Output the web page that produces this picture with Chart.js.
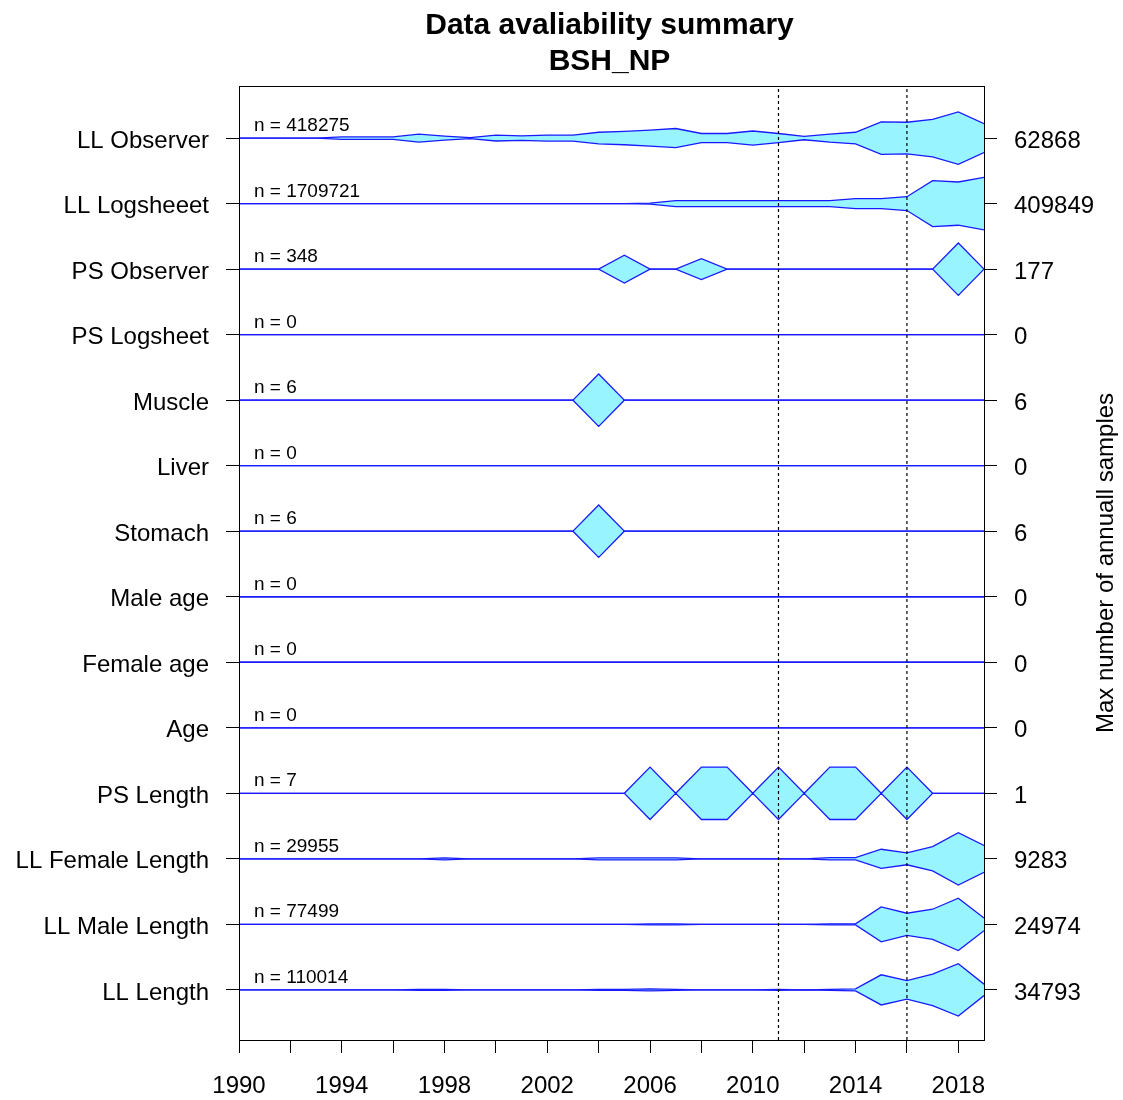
<!DOCTYPE html>
<html>
<head>
<meta charset="utf-8">
<title>Data avaliability summary - BSH_NP</title>
<script src="https://cdn.jsdelivr.net/npm/chart.js@4.4.1/dist/chart.umd.min.js"></script>
<style>
  html, body { margin: 0; padding: 0; background: #fff; }
  #wrap { width: 1123px; height: 1100px; position: relative; }
</style>
</head>
<body>
<div id="wrap"><canvas id="chart"></canvas></div>
<script>
const years = [1990, 1991, 1992, 1993, 1994, 1995, 1996, 1997, 1998, 1999,
               2000, 2001, 2002, 2003, 2004, 2005, 2006, 2007, 2008, 2009,
               2010, 2011, 2012, 2013, 2014, 2015, 2016, 2017, 2018, 2019];

// rows from top to bottom
const rowNames = ['LL Observer', 'LL Logsheeet', 'PS Observer', 'PS Logsheet', 'Muscle', 'Liver',
                  'Stomach', 'Male age', 'Female age', 'Age', 'PS Length', 'LL Female Length',
                  'LL Male Length', 'LL Length'];
const nTotals = [418275, 1709721, 348, 0, 6, 0, 6, 0, 0, 0, 7, 29955, 77499, 110014];

// annual sample counts, 1990..2019
const llObserver = [0, 0, 0, 0, 2900, 2900, 2900, 9700, 4800, 1200,
                    7000, 5500, 7200, 7200, 14000, 16000, 19300, 23000, 11000, 11000,
                    17000, 11000, 4000, 9700, 14000, 39000, 38000, 45000, 62868, 34500];
const llLogsheet = [0, 0, 0, 0, 0, 0, 0, 0, 0, 0,
                    0, 0, 0, 0, 0, 0, 8000, 47000, 47000, 47000,
                    47000, 47000, 47000, 47000, 78000, 78000, 108000, 360000, 338000, 409849];
const psObserver = [0, 0, 0, 0, 0, 0, 0, 0, 0, 0,
                    0, 0, 0, 0, 0, 94, 0, 0, 70, 0,
                    0, 0, 0, 0, 0, 0, 0, 0, 177, 0];
const psLogsheet = [0, 0, 0, 0, 0, 0, 0, 0, 0, 0,
                    0, 0, 0, 0, 0, 0, 0, 0, 0, 0,
                    0, 0, 0, 0, 0, 0, 0, 0, 0, 0];
const muscle = [0, 0, 0, 0, 0, 0, 0, 0, 0, 0,
                0, 0, 0, 0, 6, 0, 0, 0, 0, 0,
                0, 0, 0, 0, 0, 0, 0, 0, 0, 0];
const liver = [0, 0, 0, 0, 0, 0, 0, 0, 0, 0,
               0, 0, 0, 0, 0, 0, 0, 0, 0, 0,
               0, 0, 0, 0, 0, 0, 0, 0, 0, 0];
const stomach = [0, 0, 0, 0, 0, 0, 0, 0, 0, 0,
                 0, 0, 0, 0, 6, 0, 0, 0, 0, 0,
                 0, 0, 0, 0, 0, 0, 0, 0, 0, 0];
const maleAge = [0, 0, 0, 0, 0, 0, 0, 0, 0, 0,
                 0, 0, 0, 0, 0, 0, 0, 0, 0, 0,
                 0, 0, 0, 0, 0, 0, 0, 0, 0, 0];
const femaleAge = [0, 0, 0, 0, 0, 0, 0, 0, 0, 0,
                   0, 0, 0, 0, 0, 0, 0, 0, 0, 0,
                   0, 0, 0, 0, 0, 0, 0, 0, 0, 0];
const age = [0, 0, 0, 0, 0, 0, 0, 0, 0, 0,
             0, 0, 0, 0, 0, 0, 0, 0, 0, 0,
             0, 0, 0, 0, 0, 0, 0, 0, 0, 0];
const psLength = [0, 0, 0, 0, 0, 0, 0, 0, 0, 0,
                  0, 0, 0, 0, 0, 0, 1, 0, 1, 1,
                  0, 1, 0, 1, 1, 0, 1, 0, 0, 0];
const llFemaleLength = [0, 0, 0, 0, 0, 0, 0, 0, 350, 0,
                        0, 0, 0, 0, 350, 350, 350, 350, 0, 0,
                        0, 0, 0, 400, 400, 3400, 2100, 4300, 9283, 4750];
const llMaleLength = [0, 0, 0, 0, 0, 0, 0, 0, 0, 0,
                      0, 0, 0, 0, 0, 0, 500, 500, 0, 0,
                      0, 0, 0, 500, 500, 16600, 10600, 14400, 24974, 6100];
const llLength = [0, 0, 0, 0, 0, 0, 0, 600, 600, 0,
                  0, 0, 0, 0, 600, 600, 1300, 600, 0, 0,
                  0, 600, 0, 600, 1300, 20000, 12300, 21000, 34793, 7600];

const rowSeries = [llObserver, llLogsheet, psObserver, psLogsheet, muscle, liver, stomach,
                   maleAge, femaleAge, age, psLength, llFemaleLength, llMaleLength, llLength];

const xTickYears = [1990, 1992, 1994, 1996, 1998, 2000, 2002, 2004, 2006, 2008, 2010, 2012, 2014, 2016, 2018];
const xLabelYears = [1990, 1994, 1998, 2002, 2006, 2010, 2014, 2018];
const markYears = [2011, 2016];

const Y_MIN = 0.235, Y_MAX = 14.795;
const nRows = rowNames.length;
const rowMax = rowSeries.map(s => Math.max(...s));

const datasets = [];
rowSeries.forEach((vals, i) => {
  const yRow = nRows - i;
  const top = rowMax[i];
  const hw = vals.map(v => (top > 0 ? 0.4 * v / top : 0));
  datasets.push({
    data: years.map((yr, j) => ({ x: yr, y: yRow + hw[j] })),
    borderColor: '#1a1aff', borderWidth: 1.3, pointRadius: 0, fill: false, tension: 0
  });
  datasets.push({
    data: years.map((yr, j) => ({ x: yr, y: yRow - hw[j] })),
    borderColor: '#1a1aff', borderWidth: 1.3, pointRadius: 0, tension: 0,
    fill: '-1', backgroundColor: '#98f5ff'
  });
});
markYears.forEach(yr => {
  datasets.push({
    data: [{ x: yr, y: Y_MIN }, { x: yr, y: Y_MAX }],
    borderColor: '#000', borderWidth: 1.2, borderDash: [3, 3], pointRadius: 0, fill: false, order: -1
  });
});

const tickGrid = { display: true, drawOnChartArea: false, drawTicks: true, tickLength: 13, color: '#000', lineWidth: 1 };

// box, title, n = labels and the right axis title
const extras = {
  id: 'extras',
  afterDraw(chart) {
    const { ctx, chartArea: a, scales } = chart;
    ctx.save();
    ctx.strokeStyle = '#000';
    ctx.lineWidth = 1;
    ctx.strokeRect(Math.round(a.left) + 0.5, Math.round(a.top) + 0.5,
                   Math.round(a.right - a.left), Math.round(a.bottom - a.top));

    ctx.fillStyle = '#000';
    ctx.textAlign = 'center';
    ctx.textBaseline = 'middle';
    ctx.font = 'bold 30px "Liberation Sans", Arial, sans-serif';
    const cx = (a.left + a.right) / 2 - 2;
    ctx.fillText('Data avaliability summary', cx, 26);
    ctx.fillText('BSH_NP', cx, 62);

    ctx.font = '19px "Liberation Sans", Arial, sans-serif';
    ctx.textAlign = 'left';
    ctx.textBaseline = 'alphabetic';
    nTotals.forEach((n, i) => {
      const py = scales.y.getPixelForValue(nRows - i);
      ctx.fillText('n = ' + n, a.left + 15, py - 7);
    });

    ctx.font = '24px "Liberation Sans", Arial, sans-serif';
    ctx.textAlign = 'center';
    ctx.textBaseline = 'middle';
    ctx.translate(1106, (a.top + a.bottom) / 2);
    ctx.rotate(-Math.PI / 2);
    ctx.fillText('Max number of annuall samples', 0, 0);
    ctx.restore();
  }
};

Chart.defaults.font.family = '"Liberation Sans", Arial, sans-serif';
Chart.defaults.color = '#000';

new Chart(document.getElementById('chart'), {
  type: 'line',
  data: { datasets: datasets },
  options: {
    responsive: true,
    maintainAspectRatio: false,
    animation: false,
    layout: { padding: { top: 86, left: 0, right: 0, bottom: 0 } },
    plugins: { legend: { display: false }, tooltip: { enabled: false }, title: { display: false } },
    scales: {
      x: {
        type: 'linear', position: 'bottom', min: 1990, max: 2019,
        afterBuildTicks: s => { s.ticks = xTickYears.map(v => ({ value: v })); },
        afterFit: s => { s.height = 60; },
        ticks: {
          autoSkip: false, maxRotation: 0, minRotation: 0, padding: 19,
          font: { size: 24 }, color: '#000',
          callback: v => (xLabelYears.includes(Math.round(v)) ? String(Math.round(v)) : '')
        },
        grid: tickGrid,
        border: { display: false }
      },
      y: {
        type: 'linear', position: 'left', min: Y_MIN, max: Y_MAX,
        afterBuildTicks: s => { s.ticks = rowNames.map((_, i) => ({ value: nRows - i })); },
        afterFit: s => { s.width = 239; },
        ticks: {
          autoSkip: false, padding: 17, labelOffset: 3, font: { size: 24 }, color: '#000',
          callback: v => rowNames[nRows - Math.round(v)]
        },
        grid: tickGrid,
        border: { display: false }
      },
      y2: {
        type: 'linear', position: 'right', min: Y_MIN, max: Y_MAX,
        afterBuildTicks: s => { s.ticks = rowNames.map((_, i) => ({ value: nRows - i })); },
        afterFit: s => { s.width = 139; },
        ticks: {
          autoSkip: false, padding: 17, labelOffset: 3, font: { size: 24 }, color: '#000',
          callback: v => String(rowMax[nRows - Math.round(v)])
        },
        grid: tickGrid,
        border: { display: false }
      }
    }
  },
  plugins: [extras]
});
</script>
</body>
</html>
